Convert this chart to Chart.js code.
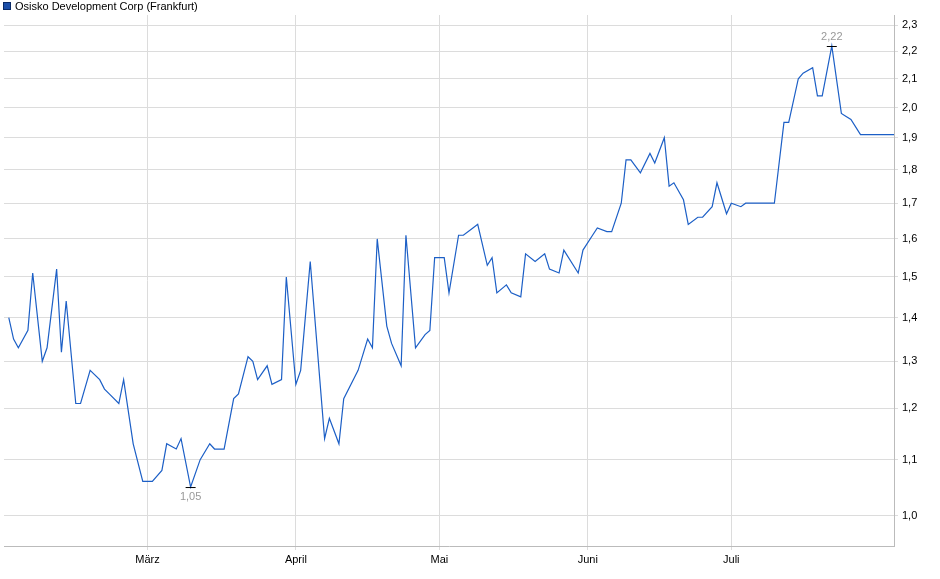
<!DOCTYPE html>
<html>
<head>
<script src="https://cdn.jsdelivr.net/npm/chart.js"></script>
<style>body{margin:0;background:#fff}#wrap{width:940px;height:579px}</style>
</head>
<body>
<div id="wrap"><canvas id="c"></canvas></div>
<script>
// days counted from 1 March
const days = [-29,-28,-27,-25,-24,-22,-21,-19,-18,-17,-15,-14,-12,-10,-9,-8,-6,-5,-3,-1,1,3,4,6,7,9,11,13,14,16,18,19,21,22,23,25,26,28,29,31,32,34,37,38,40,41,44,46,47,48,50,51,53,54,56,58,59,60,62,63,65,66,68,69,71,72,73,75,76,78,79,81,83,84,86,87,90,91,93,94,96,97,99,100,101,103,105,106,108,109,110,112,113,115,116,118,119,121,122,124,125,131,133,134,136,137,139,140,141,143,145,146,147,149,156];
const prices = [1.40,1.35,1.33,1.37,1.51,1.30,1.33,1.52,1.32,1.44,1.21,1.21,1.28,1.26,1.24,1.23,1.21,1.26,1.13,1.06,1.06,1.08,1.13,1.12,1.14,1.05,1.10,1.13,1.12,1.12,1.22,1.23,1.31,1.30,1.26,1.29,1.25,1.26,1.50,1.25,1.28,1.54,1.14,1.18,1.13,1.22,1.28,1.35,1.33,1.60,1.38,1.34,1.29,1.61,1.33,1.36,1.37,1.55,1.55,1.46,1.61,1.61,1.63,1.64,1.53,1.55,1.46,1.48,1.46,1.45,1.56,1.54,1.56,1.52,1.51,1.57,1.51,1.57,1.61,1.63,1.62,1.62,1.70,1.83,1.83,1.79,1.85,1.82,1.90,1.75,1.76,1.71,1.64,1.66,1.66,1.69,1.76,1.67,1.70,1.69,1.70,1.70,1.95,1.95,2.10,2.12,2.14,2.04,2.04,2.22,1.98,1.97,1.96,1.91,1.91];
const monthLabels = ['März','April','Mai','Juni','Juli'];
const monthDays = [0,31,61,92,122];
const yTicks = [1.0,1.1,1.2,1.3,1.4,1.5,1.6,1.7,1.8,1.9,2.0,2.1,2.2,2.3];
const seriesName = 'Osisko Development Corp (Frankfurt)';

const fmt = v => v.toFixed(2).replace('.', ',');
const extras = {
  id: 'extras',
  afterDatasetsDraw(chart) {
    const ctx = chart.ctx, xs = chart.scales.x, ys = chart.scales.y;
    const iMin = prices.indexOf(Math.min(...prices));
    const iMax = prices.indexOf(Math.max(...prices));
    ctx.save();
    ctx.font = '11px "Liberation Sans", Arial';
    ctx.textAlign = 'center';
    [[iMin, 1], [iMax, -1]].forEach(([i, dir]) => {
      const px = xs.getPixelForValue(days[i]), py = ys.getPixelForValue(prices[i]);
      ctx.strokeStyle = '#000'; ctx.lineWidth = 1;
      ctx.beginPath(); ctx.moveTo(px - 5, py + 0.5); ctx.lineTo(px + 5, py + 0.5); ctx.stroke();
      ctx.fillStyle = '#999';
      ctx.textBaseline = dir > 0 ? 'top' : 'bottom';
      ctx.fillText(fmt(prices[i]), px, py + dir * 4);
    });
    // legend
    ctx.fillStyle = '#1c4fa8'; ctx.strokeStyle = '#0a2a66';
    ctx.fillRect(3, 2, 8, 8); ctx.strokeRect(3.5, 2.5, 7, 7);
    ctx.fillStyle = '#000'; ctx.textAlign = 'left'; ctx.textBaseline = 'middle';
    ctx.fillText(seriesName, 15, 6.5);
    ctx.restore();
  }
};

new Chart(document.getElementById('c'), {
  type: 'line',
  data: {
    datasets: [{
      label: seriesName,
      data: days.map((d, i) => ({ x: d, y: prices[i] })),
      borderColor: '#1c5fc6',
      borderWidth: 1.2,
      pointRadius: 0,
      tension: 0
    }]
  },
  options: {
    responsive: true,
    maintainAspectRatio: false,
    animation: false,
    layout: { padding: { left: 4, top: 15, right: 0, bottom: 0 } },
    plugins: { tooltip: { enabled: false }, legend: { display: false } },
    scales: {
      x: {
        type: 'linear', min: -30, max: 156,
        afterBuildTicks: s => { s.ticks = monthDays.map(v => ({ value: v })); },
        afterFit: s => { s.height = 33; },
        ticks: {
          autoSkip: false, maxRotation: 0, color: '#000',
          font: { family: '"Liberation Sans", Arial', size: 11 },
          callback: (v) => monthLabels[monthDays.indexOf(v)]
        },
        grid: { color: '#dcdcdc', tickLength: 4 },
        border: { color: '#bbb' }
      },
      y: {
        type: 'logarithmic', position: 'right', min: 0.95, max: 2.34,
        afterBuildTicks: s => { s.ticks = yTicks.map(v => ({ value: v })); },
        afterFit: s => { s.width = 46; },
        ticks: {
          color: '#000', padding: 4,
          font: { family: '"Liberation Sans", Arial', size: 11 },
          callback: v => v.toFixed(1).replace('.', ',')
        },
        grid: { color: '#dcdcdc', tickLength: 4 },
        border: { color: '#bbb' }
      }
    }
  },
  plugins: [extras]
});
</script>
</body>
</html>
